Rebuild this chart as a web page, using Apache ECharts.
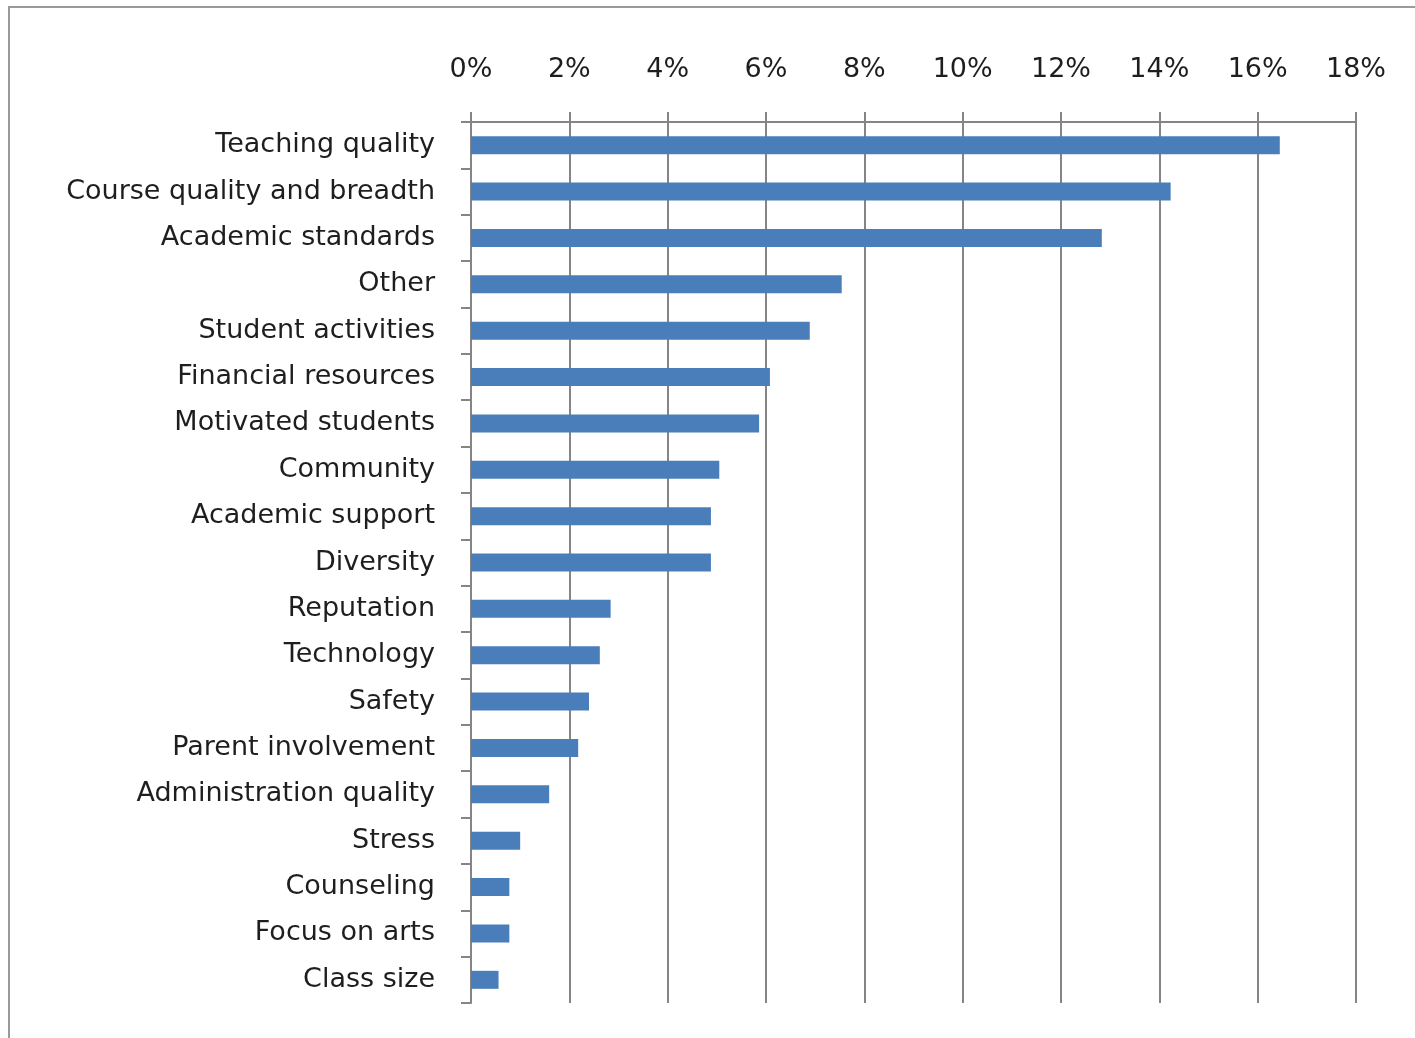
<!DOCTYPE html>
<html>
<head>
<meta charset="utf-8">
<script src="https://cdn.jsdelivr.net/npm/echarts@6/dist/echarts.min.js"></script>
<style>
html,body{margin:0;padding:0;background:#fff;}
#chart{width:1415px;height:1038px;}
</style>
</head>
<body>
<div id="chart"></div>
<script>
const categories = ["Teaching quality","Course quality and breadth","Academic standards","Other","Student activities","Financial resources","Motivated students","Community","Academic support","Diversity","Reputation","Technology","Safety","Parent involvement","Administration quality","Stress","Counseling","Focus on arts","Class size"];
const values = [16.45,14.23,12.83,7.54,6.89,6.08,5.86,5.05,4.88,4.88,2.84,2.62,2.40,2.18,1.59,1.00,0.78,0.78,0.56];
const xMin = 0, xMax = 18, xStep = 2;

const chart = echarts.init(document.getElementById('chart'), null, {renderer:'canvas'});
const font = '"DejaVu Sans", sans-serif';
chart.setOption({
  animation:false,
  backgroundColor:'#ffffff',
  graphic:[{type:'rect',shape:{x:9,y:7,width:1430,height:1050},style:{fill:'none',stroke:'#9a9a9a',lineWidth:2},z:-1}],
  grid:{left:471,top:122,width:885,height:881,containLabel:false},
  xAxis:{type:'value',position:'top',min:xMin,max:xMax,interval:xStep,
    axisLine:{show:true,lineStyle:{color:'#858585',width:2}},
    axisTick:{show:true,length:10,lineStyle:{color:'#858585',width:2}},
    axisLabel:{formatter:'{value}%',margin:39,color:'#1e1e1e',fontFamily:font,fontSize:27},
    splitLine:{show:true,lineStyle:{color:'#858585',width:2}}},
  yAxis:{type:'category',inverse:true,data:categories,
    axisLine:{show:true,lineStyle:{color:'#858585',width:2}},
    axisTick:{show:true,length:10,lineStyle:{color:'#858585',width:2}},
    axisLabel:{margin:36,color:'#1e1e1e',fontFamily:font,fontSize:27}},
  series:[{type:'bar',data:values,barWidth:18,itemStyle:{color:'#4a7ebb'}}]
});
</script>
</body>
</html>
